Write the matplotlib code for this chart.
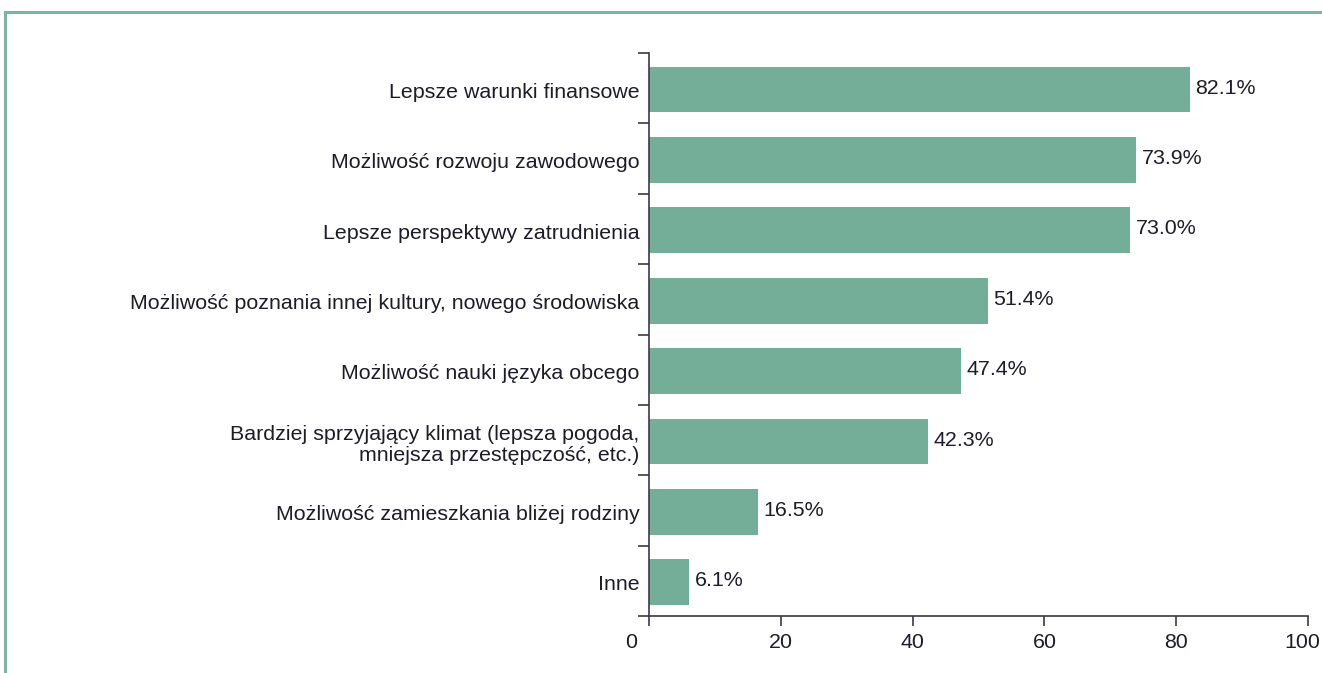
import numpy as np
import matplotlib.pyplot as plt
from matplotlib.lines import Line2D
from matplotlib.transforms import ScaledTranslation

plt.rcParams['font.family'] = ['Liberation Sans', 'DejaVu Sans']

categories = [
    "Lepsze warunki finansowe",
    "Możliwość rozwoju zawodowego",
    "Lepsze perspektywy zatrudnienia",
    "Możliwość poznania innej kultury, nowego środowiska",
    "Możliwość nauki języka obcego",
    "Bardziej sprzyjający klimat (lepsza pogoda,\nmniejsza przestępczość, etc.)",
    "Możliwość zamieszkania bliżej rodziny",
    "Inne",
]
values = [82.1, 73.9, 73.0, 51.4, 47.4, 42.3, 16.5, 6.1]
x_ticks = [0, 20, 40, 60, 80, 100]

bar_color = "#74ad98"
frame_color = "#7db4a0"
text_color = "#1c1c2a"
axis_color = "#3a3a48"
fs = 15.4

fig = plt.figure(figsize=(13.22, 6.73), dpi=100)
ax = fig.add_axes([649 / 1322, 1 - 616 / 673, (1308 - 649) / 1322, (616 - 53) / 673])

pos = np.arange(len(categories))
ax.barh(pos + 0.02, values, height=0.65, color=bar_color)

for p, v in zip(pos, values):
    ax.annotate(f"{v:.1f}%", (v, p), xytext=(4, 0), textcoords="offset points",
                ha="left", va="center", fontsize=fs, color=text_color)

ax.set_xlim(0, 100)
ax.set_ylim(len(categories) - 0.5, -0.5)

# boundary ticks on y, labels at the centres
ax.set_yticks(np.arange(-0.5, len(categories) + 0.5, 1))
ax.set_yticklabels([])
ax.set_yticks(pos + 0.03, minor=True)
ax.set_yticklabels(categories, minor=True, fontsize=fs, color=text_color,
                   ha="right", multialignment="right", linespacing=1.1)
ax.tick_params(axis="y", which="major", length=8, width=1.2, direction="out", color=axis_color)
ax.tick_params(axis="y", which="minor", length=0, pad=7)

ax.set_xticks(x_ticks)
ax.set_xticklabels([str(t) for t in x_ticks], fontsize=fs, color=text_color)
ax.tick_params(axis="x", length=7.5, width=1.2, direction="out", color=axis_color, pad=5)

# the "0" sits left of its tick in the original, "100" is pulled in from the edge
xlabels = ax.get_xticklabels()
for lab, dx in [(xlabels[0], -0.18), (xlabels[-1], -0.06)]:
    lab.set_transform(lab.get_transform() + ScaledTranslation(dx, 0, fig.dpi_scale_trans))

for s in ["top", "right"]:
    ax.spines[s].set_visible(False)
for s in ["left", "bottom"]:
    ax.spines[s].set_color(axis_color)
    ax.spines[s].set_linewidth(1.2)

# green frame of the figure panel
fig.add_artist(Line2D([5 / 1322, 1], [1 - 12 / 673, 1 - 12 / 673],
                      transform=fig.transFigure, color=frame_color, lw=2.2))
fig.add_artist(Line2D([5 / 1322, 5 / 1322], [0, 1 - 12 / 673],
                      transform=fig.transFigure, color=frame_color, lw=2.2))

fig.savefig("out.png", dpi=100)
